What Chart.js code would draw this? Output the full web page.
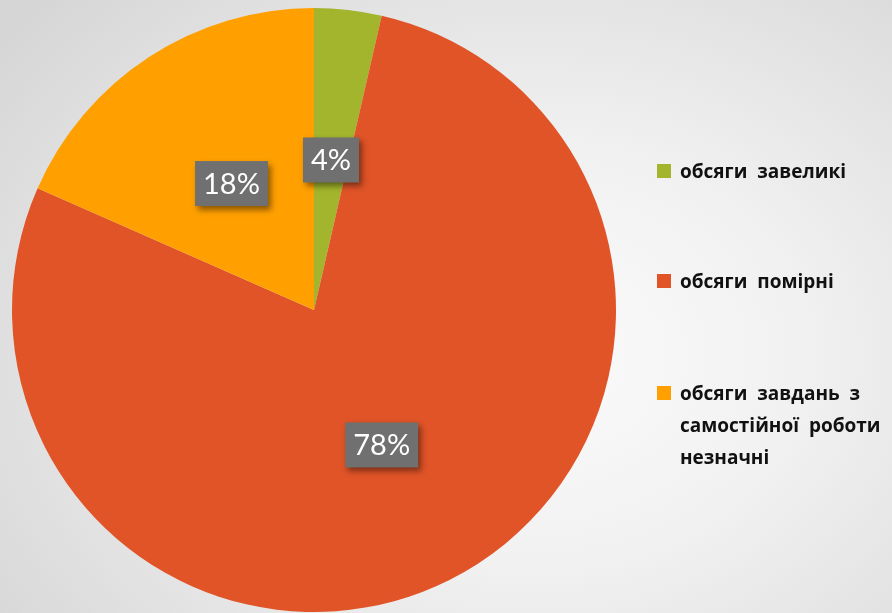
<!DOCTYPE html>
<html>
<head>
<meta charset="utf-8">
<script src="https://cdn.jsdelivr.net/npm/chart.js@4.4.1/dist/chart.umd.min.js"></script>
<style>
  html, body { margin: 0; padding: 0; }
  body {
    width: 892px; height: 613px; overflow: hidden; position: relative;
    background: radial-gradient(ellipse 75% 85% at 60% 58%, #fbfbfb 0%, #f1f1f1 40%, #d6d6d6 100%);
  }
  #wrap { position: absolute; left: 0; top: 0; width: 892px; height: 613px; }
  #legend {
    position: absolute; left: 657px; top: 155px; width: 235px;
    font-family: "Open Sans", "Noto Sans", sans-serif; font-weight: bold;
    font-size: 19px; color: #111; word-spacing: 5px;
  }
  .item { position: absolute; left: 0; padding-left: 23px; line-height: 32px; white-space: nowrap; }
  .item .box { position: absolute; left: 0; top: 9px; width: 14px; height: 14px; }
</style>
</head>
<body>
<div id="wrap"><canvas id="myChart" width="892" height="613"></canvas></div>
<div id="legend"></div>
<script>
// дані діаграми
const categories = ['обсяги  завеликі', 'обсяги  помірні', 'обсяги  завдань  з самостійної  роботи незначні'];
const legendLines = [['обсяги  завеликі'], ['обсяги  помірні'], ['обсяги  завдань  з', 'самостійної  роботи', 'незначні']];
const values = [3.6, 78, 18.4];
const colors = ['#a3b52c', '#e05427', '#ffa000'];

// підписи у вигляді сірих плашок з тінню
const boxLabels = {
  id: 'boxLabels',
  afterDatasetsDraw(chart) {
    const c = chart.ctx;
    const meta = chart.getDatasetMeta(0);
    const total = values.reduce((a, b) => a + b, 0);
    c.save();
    c.font = '29px Lato, "Open Sans", sans-serif';
    c.textAlign = 'center';
    c.textBaseline = 'middle';
    meta.data.forEach((arc, i) => {
      const p = arc.tooltipPosition();
      const txt = Math.round(values[i] / total * 100) + '%';
      const w = c.measureText(txt).width + 16;
      const h = 45;
      c.shadowColor = 'rgba(0,0,0,0.45)';
      c.shadowBlur = 6;
      c.shadowOffsetX = 3;
      c.shadowOffsetY = 4;
      c.fillStyle = '#707070';
      c.fillRect(p.x - w / 2, p.y - h / 2, w, h);
      c.shadowColor = 'transparent';
      c.fillStyle = '#ffffff';
      c.fillText(txt, p.x, p.y + 1);
    });
    c.restore();
  }
};

const ctx = document.getElementById('myChart').getContext('2d');
const myChart = new Chart(ctx, {
  type: 'pie',
  data: {
    labels: categories,
    datasets: [{
      data: values,
      backgroundColor: colors,
      borderWidth: 0
    }]
  },
  options: {
    responsive: false,
    animation: false,
    layout: { padding: { left: 12, top: 8, right: 276, bottom: 1 } },
    plugins: {
      legend: { display: false },
      tooltip: { enabled: false }
    }
  },
  plugins: [boxLabels]
});

// легенда праворуч
const tops = [0, 110, 222];
const legend = document.getElementById('legend');
legendLines.forEach((lines, i) => {
  const item = document.createElement('div');
  item.className = 'item';
  item.style.top = tops[i] + 'px';
  item.innerHTML = '<span class="box" style="background:' + colors[i] + '"></span>' + lines.join('<br>');
  legend.appendChild(item);
});
</script>
</body>
</html>
